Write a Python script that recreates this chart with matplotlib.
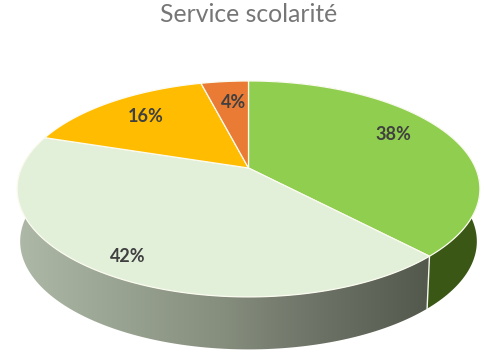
import numpy as np
import matplotlib
matplotlib.use('Agg')
import matplotlib.pyplot as plt
from matplotlib.colors import LinearSegmentedColormap
from matplotlib.patches import Polygon

title = 'Service scolarité'
values = [38, 42, 16, 4]
labels = ['38%', '42%', '16%', '4%']
colors = ['#8fce4e', '#e2efd9', '#ffbc00', '#ea7b35']
label_pos = [(393, 135), (128, 257), (146, 117), (234, 102)]


def project(theta, cx, cy, a, b, k=0.194):
    # tilted disc in perspective, theta runs clockwise from the top
    x = np.sin(theta)
    y = np.cos(theta)
    w = 1 + k * y
    return cx + a * x / w, cy - b * y / w


def top_face(theta):
    return project(theta, 248.5, 168, 227, 103.9)


def bottom_face(theta):
    return project(theta, 248.5, 220.5, 224, 103.9)


def band(t0, t1):
    t = np.linspace(t0, t1, 120)
    xt, yt = top_face(t)
    xb, yb = bottom_face(t[::-1])
    return np.column_stack([np.r_[xt, xb], np.r_[yt, yb]])


fig = plt.figure(figsize=(4.84, 3.58), dpi=100)
ax = fig.add_axes([0, 0, 1, 1])
ax.axis('off')

edges = 2 * np.pi * np.cumsum([0] + values) / sum(values)

# side wall of the two front slices
wall_green = Polygon(band(edges[0], edges[1]), fc='#3a5716', ec='none', zorder=1)
ax.add_patch(wall_green)

wall_cmap = LinearSegmentedColormap.from_list('wall', ['#aeb8a6', '#99a391', '#858d7d', '#6a7064', '#53584d'])
wall_pale = Polygon(band(edges[1], edges[2]), fc='none', ec='none', zorder=2)
ax.add_patch(wall_pale)
img = ax.imshow(np.linspace(0, 1, 256).reshape(1, -1), cmap=wall_cmap, aspect='auto',
                extent=(18, 432, 358, 0), zorder=2)
img.set_clip_path(wall_pale)
ax.set_xlim(0, 484)
ax.set_ylim(358, 0)

# white seam between the two walls
sx0, sy0 = top_face(edges[1])
sx1, sy1 = bottom_face(edges[1])
ax.plot([sx0, sx1], [sy0, sy1], color='#f4f7ee', lw=1.0, zorder=3)

# top of the disc
for i, col in enumerate(colors):
    t = np.linspace(edges[i], edges[i + 1], 120)
    xs, ys = top_face(t)
    pts = np.column_stack([np.r_[248.5, xs], np.r_[168, ys]])
    ax.add_patch(Polygon(pts, fc=col, ec='#fbfbf0', lw=0.9, joinstyle='round', zorder=4))

for lab, (lx, ly) in zip(labels, label_pos):
    ax.text(lx, ly, lab, ha='center', va='center', fontsize=13, fontweight='bold',
            color='#404040', family='Lato', zorder=5)

ax.text(248.5, 15, title, ha='center', va='center', fontsize=17.8, color='#767676',
        family='Lato')

fig.savefig('out.png', dpi=100)
